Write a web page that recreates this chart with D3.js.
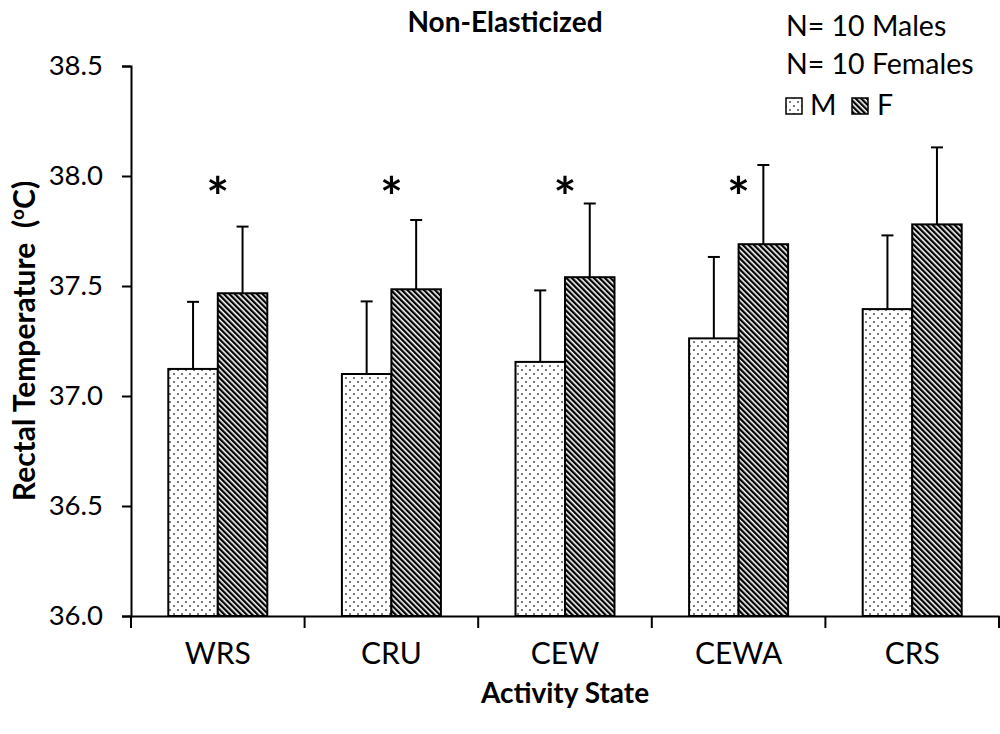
<!DOCTYPE html>
<html lang="en">
<head>
<meta charset="UTF-8">
<title>Non-Elasticized</title>
<style>
  body { margin: 0; background: #fff; }
  svg text { font-family: Lato, "Open Sans", sans-serif; fill: #000; }
</style>
</head>
<body>
<div id="wrapper"></div>
<script src="https://d3js.org/d3.v7.min.js"></script>
<script>
{
    // data
    const categories = ['WRS', 'CRU', 'CEW', 'CEWA', 'CRS']
    const maleMean = [37.123, 37.10, 37.155, 37.262, 37.395]
    const maleSD = [0.305, 0.33, 0.325, 0.37, 0.335]
    const femaleMean = [37.467, 37.485, 37.54, 37.69, 37.78]
    const femaleSD = [0.303, 0.315, 0.335, 0.36, 0.35]
    const significant = [true, true, true, true, false]
    const yTicks = [36.0, 36.5, 37.0, 37.5, 38.0, 38.5]

    const width = 1000
    const height = 734
    const margin = { top: 66, right: 1, bottom: 118, left: 131 }

    const svg = d3.select('#wrapper').append('svg')
        .attr('width', width)
        .attr('height', height)

    // fill patterns
    const defs = svg.append('defs')
    const dots = defs.append('pattern')
        .attr('id', 'dots')
        .attr('patternUnits', 'userSpaceOnUse')
        .attr('width', 8).attr('height', 8)
    dots.append('rect').attr('width', 8).attr('height', 8).attr('fill', '#fff')
    dots.append('rect').attr('x', 1).attr('y', 1).attr('width', 2).attr('height', 2).attr('fill', '#7a7a7a')
    dots.append('rect').attr('x', 5).attr('y', 5).attr('width', 2).attr('height', 2).attr('fill', '#7a7a7a')

    const stripes = defs.append('pattern')
        .attr('id', 'stripes')
        .attr('patternUnits', 'userSpaceOnUse')
        .attr('width', 3.9).attr('height', 3.9)
        .attr('patternTransform', 'rotate(-45)')
    stripes.append('rect').attr('width', 3.9).attr('height', 3.9).attr('fill', '#fff')
    stripes.append('rect').attr('width', 2.3).attr('height', 3.9).attr('fill', '#000')

    const x = d3.scaleBand()
        .domain(categories)
        .range([margin.left, width - margin.right])
        .paddingInner(0)
        .paddingOuter(0)

    const y = d3.scaleLinear()
        .domain([36.0, 38.5])
        .range([height - margin.bottom, margin.top])

    const barW = 49.5
    const groups = categories.map((c, i) => ({
        cat: c,
        m: maleMean[i], ms: maleSD[i],
        f: femaleMean[i], fs: femaleSD[i],
        sig: significant[i]
    }))

    // error bars (upper only)
    const errs = []
    groups.forEach(g => {
        const cx = x(g.cat) + x.bandwidth() / 2
        errs.push({ x: cx - barW / 2, v: g.m, e: g.m + g.ms })
        errs.push({ x: cx + barW / 2, v: g.f, e: g.f + g.fs })
    })
    const eb = svg.append('g').selectAll('g').data(errs).enter().append('g')
    eb.append('line')
        .attr('x1', d => d.x).attr('x2', d => d.x)
        .attr('y1', d => y(d.v)).attr('y2', d => y(d.e))
        .attr('stroke', '#000').attr('stroke-width', 2)
    eb.append('line')
        .attr('x1', d => d.x - 6).attr('x2', d => d.x + 6)
        .attr('y1', d => y(d.e)).attr('y2', d => y(d.e))
        .attr('stroke', '#000').attr('stroke-width', 2)

    // bars
    const bars = svg.append('g')
    bars.selectAll('rect.m').data(groups).enter().append('rect')
        .attr('class', 'm')
        .attr('x', d => x(d.cat) + x.bandwidth() / 2 - barW)
        .attr('y', d => y(d.m))
        .attr('width', barW)
        .attr('height', d => y(36.0) - y(d.m))
        .attr('fill', 'url(#dots)')
        .attr('stroke', '#000').attr('stroke-width', 2)
    bars.selectAll('rect.f').data(groups).enter().append('rect')
        .attr('class', 'f')
        .attr('x', d => x(d.cat) + x.bandwidth() / 2)
        .attr('y', d => y(d.f))
        .attr('width', barW)
        .attr('height', d => y(36.0) - y(d.f))
        .attr('fill', 'url(#stripes)')
        .attr('stroke', '#000').attr('stroke-width', 2)

    // significance stars
    svg.append('g').selectAll('text').data(groups.filter(g => g.sig)).enter().append('text')
        .attr('x', d => x(d.cat) + x.bandwidth() / 2)
        .attr('y', y(37.82))
        .attr('text-anchor', 'middle')
        .attr('font-size', '54px')
        .attr('font-weight', 'bold')
        .text('*')

    // axes
    const yAxis = svg.append('g')
        .attr('transform', `translate(${margin.left},0)`)
        .call(d3.axisLeft(y).tickValues(yTicks).tickFormat(d3.format('.1f')).tickSize(9).tickPadding(19))
    yAxis.select('.domain').attr('stroke-width', 2)
    yAxis.selectAll('.tick line').attr('stroke-width', 2)
    yAxis.selectAll('.tick text').attr('font-size', '27.5px')

    const xAxis = svg.append('g')
        .attr('transform', `translate(0,${y(36.0)})`)
        .call(d3.axisBottom(x).tickSize(0).tickPadding(27))
    xAxis.select('.domain').attr('stroke-width', 2)
    xAxis.selectAll('.tick text').attr('font-size', '30px')
    // tick marks between categories
    const edges = categories.map(c => x(c) + x.bandwidth())
    xAxis.selectAll('line.sep').data(edges).enter().append('line')
        .attr('class', 'sep')
        .attr('x1', d => d).attr('x2', d => d)
        .attr('y1', 0).attr('y2', 12)
        .attr('stroke', '#000').attr('stroke-width', 2)
    xAxis.append('line')
        .attr('x1', margin.left).attr('x2', margin.left)
        .attr('y1', 0).attr('y2', 12)
        .attr('stroke', '#000').attr('stroke-width', 2)

    // titles
    svg.append('text')
        .attr('x', 505).attr('y', 32)
        .attr('text-anchor', 'middle')
        .attr('font-size', '28px').attr('font-weight', 'bold')
        .text('Non-Elasticized')

    svg.append('text')
        .attr('x', 565).attr('y', 703)
        .attr('text-anchor', 'middle')
        .attr('font-size', '28px').attr('font-weight', 'bold')
        .text('Activity State')

    const yl = svg.append('text')
        .attr('transform', `translate(35,${y(37.25)}) rotate(-90)`)
        .attr('text-anchor', 'middle')
        .attr('font-size', '30px').attr('font-weight', 'bold')
    yl.append('tspan').text('Rectal Temperature\u00a0\u00a0(')
    yl.append('tspan').attr('font-size', '19px').attr('dy', -11).text('o')
    yl.append('tspan').attr('dy', 11).text('C)')

    // legend
    const leg = svg.append('g')
    leg.append('text').attr('x', 786).attr('y', 36).attr('font-size', '28.5px').text('N= 10 Males')
    leg.append('text').attr('x', 786).attr('y', 74).attr('font-size', '28.5px').text('N= 10 Females')
    leg.append('rect').attr('x', 786).attr('y', 98).attr('width', 16).attr('height', 16)
        .attr('fill', 'url(#dots)').attr('stroke', '#000').attr('stroke-width', 1.5)
    leg.append('text').attr('x', 810).attr('y', 115).attr('font-size', '28.5px').text('M')
    leg.append('rect').attr('x', 852).attr('y', 98).attr('width', 16).attr('height', 16)
        .attr('fill', 'url(#stripes)').attr('stroke', '#000').attr('stroke-width', 1.5)
    leg.append('text').attr('x', 877).attr('y', 115).attr('font-size', '28.5px').text('F')
}
</script>
</body>
</html>
